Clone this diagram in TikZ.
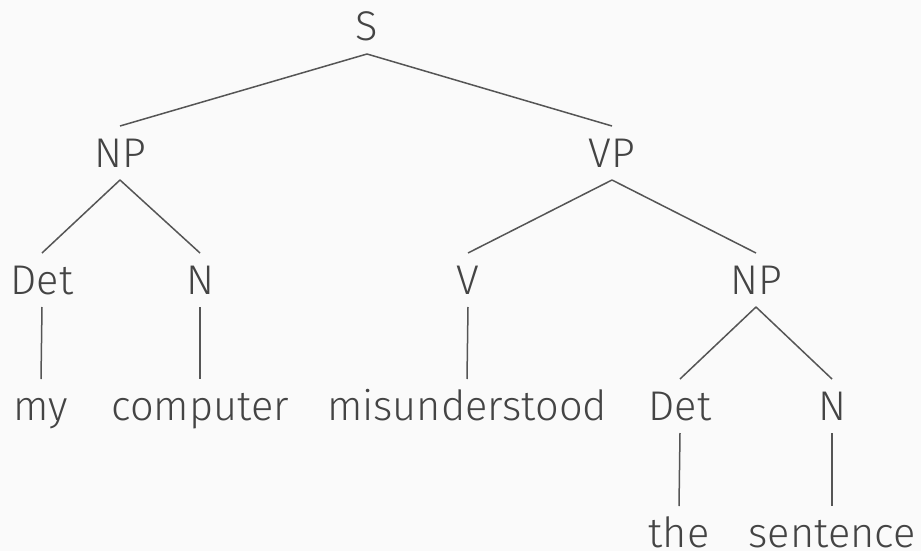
\documentclass[tikz,border=0pt]{standalone}
\usepackage{fontspec}
\setmainfont{Fira Sans Light}
\definecolor{bg}{HTML}{FAFAFA}
\definecolor{ink}{HTML}{444444}
\definecolor{edge}{HTML}{555555}
\begin{document}
\begin{tikzpicture}[x=1pt,y=-1pt,
  lab/.style={anchor=base,font=\fontsize{41.5}{41.5}\selectfont,text=ink,inner sep=0pt,
    text height=28pt,text depth=0pt,outer ysep=13pt},
  br/.style={draw=edge,line width=1.5pt}]
\fill[bg] (0,0) rectangle (921,551);
\useasboundingbox (0,0) rectangle (921,551);
\node[lab] (s) at (367,41) {S};
\node[lab] (np1) at (120,167) {NP};
\node[lab] (vp) at (612,167) {VP};
\node[lab] (det1) at (42,294) {Det};
\node[lab] (n1) at (200,294) {N};
\node[lab] (v) at (468,294) {V};
\node[lab] (np2) at (756,294) {NP};
\node[lab] (my) at (41,420) {my};
\node[lab] (comp) at (200,420) {computer};
\node[lab] (mis) at (467,420) {misunderstood};
\node[lab] (det2) at (680,420) {Det};
\node[lab] (n2) at (832,420) {N};
\node[lab] (the) at (679,547) {the};
\node[lab] (sent) at (832,547) {sentence};
\draw[br] (s.south) -- (np1.north);
\draw[br] (s.south) -- (vp.north);
\draw[br] (np1.south) -- (det1.north);
\draw[br] (np1.south) -- (n1.north);
\draw[br] (vp.south) -- (v.north);
\draw[br] (vp.south) -- (np2.north);
\draw[br] (det1.south) -- (my.north);
\draw[br] (n1.south) -- (comp.north);
\draw[br] (v.south) -- (mis.north);
\draw[br] (np2.south) -- (det2.north);
\draw[br] (np2.south) -- (n2.north);
\draw[br] (det2.south) -- (the.north);
\draw[br] (n2.south) -- (sent.north);
\end{tikzpicture}
\end{document}
